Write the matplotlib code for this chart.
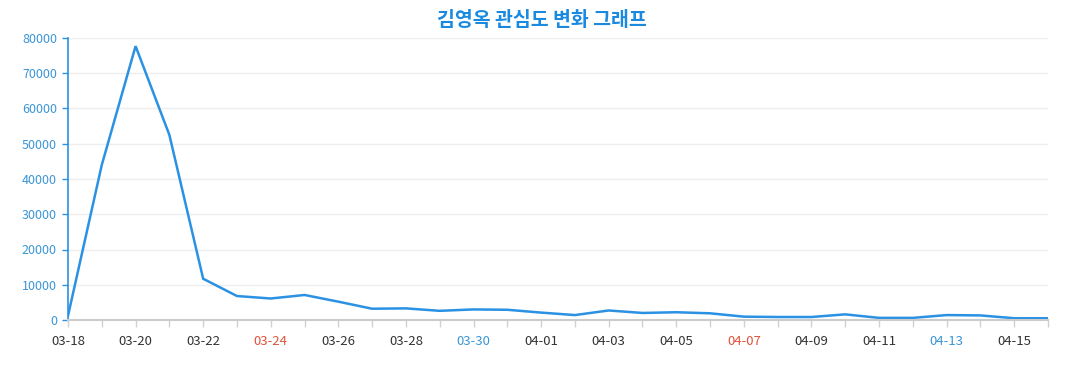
import matplotlib
matplotlib.use("Agg")
import matplotlib.pyplot as plt
import numpy as np

plt.rcParams['font.family'] = ['Noto Sans CJK KR', 'DejaVu Sans']

dates = ["03-18", "03-19", "03-20", "03-21", "03-22", "03-23", "03-24", "03-25", "03-26", "03-27",
         "03-28", "03-29", "03-30", "03-31", "04-01", "04-02", "04-03", "04-04", "04-05", "04-06",
         "04-07", "04-08", "04-09", "04-10", "04-11", "04-12", "04-13", "04-14", "04-15", "04-16"]
values = [1200, 44000, 77700, 52500, 11700, 6800, 6100, 7100, 5200, 3200,
          3300, 2600, 3000, 2900, 2100, 1400, 2700, 2000, 2200, 1900,
          950, 850, 850, 1600, 600, 600, 1400, 1300, 500, 500]
yticks = [0, 10000, 20000, 30000, 40000, 50000, 60000, 70000, 80000]
red_days = ["03-24", "04-07"]
blue_days = ["03-30", "04-13"]

title = "김영옥 관심도 변화 그래프"
blue = "#2b91e3"
label_blue = "#3a95d8"

fig = plt.figure(figsize=(10.77, 3.9), dpi=100)
ax = fig.add_axes([68/1077, 1 - 320/390, (1048-68)/1077, (320-38)/390])

x = np.arange(len(dates))
ax.plot(x, values, color=blue, lw=1.8, solid_joinstyle='miter')

ax.set_xlim(0, len(dates) - 1)
ax.set_ylim(0, 80000)
ax.set_yticks(yticks)
ax.set_yticklabels([str(v) for v in yticks], fontsize=9)
ax.set_xticks(x)
ax.set_xticklabels([d if i % 2 == 0 else "" for i, d in enumerate(dates)], fontsize=9.5)

ax.grid(axis='y', color="#eeeeee", lw=1)
ax.set_axisbelow(True)
for s in ['top', 'right']:
    ax.spines[s].set_visible(False)
ax.spines['left'].set_color(blue)
ax.spines['left'].set_linewidth(1.2)
ax.spines['bottom'].set_color("#cccccc")
ax.spines['bottom'].set_linewidth(1.5)
ax.tick_params(axis='y', colors=blue, length=4, width=1, pad=4, labelcolor=label_blue)
ax.tick_params(axis='x', colors="#d0d0d0", length=5, width=1, pad=6)
for lbl, d in zip(ax.get_xticklabels(), dates):
    if d in red_days:
        lbl.set_color("#e0533a")
    elif d in blue_days:
        lbl.set_color(label_blue)
    else:
        lbl.set_color("#333333")

fig.text(542/1077, 1 - 20/390, title, ha='center', va='center', fontsize=14,
         fontweight='bold', color="#1a8ae0")

fig.savefig("out.png", dpi=100)
